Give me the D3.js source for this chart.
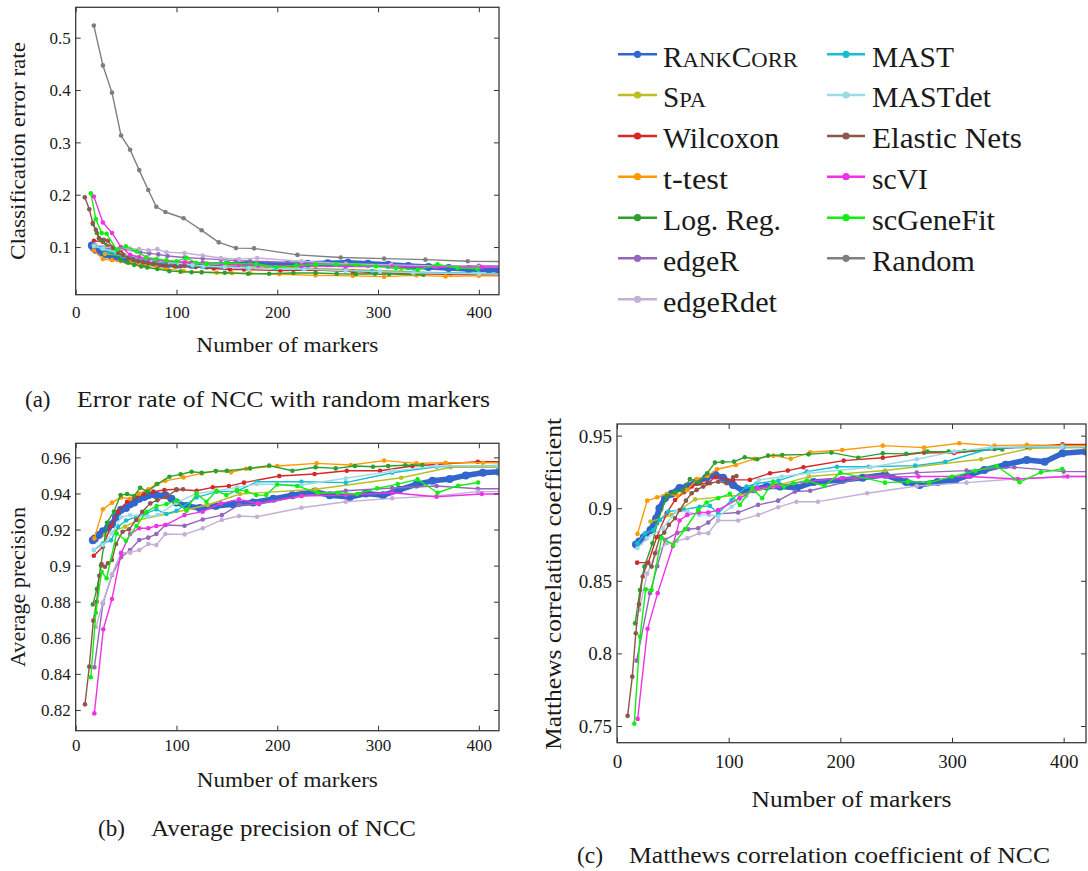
<!DOCTYPE html>
<html>
<head>
<meta charset="utf-8">
<script src="https://cdn.jsdelivr.net/npm/d3@7"></script>
<style>
  body { margin: 0; background: #fff; }
  svg text { font-family: "Liberation Serif", "DejaVu Serif", serif; fill: #1a1a1a; }
</style>
</head>
<body>
<div id="app"></div>
<script>
// methods, colours (legend order = draw order)
const methods = ['RankCorr', 'Spa', 'Wilcoxon', 't-test', 'Log. Reg.', 'edgeR', 'edgeRdet',
  'MAST', 'MASTdet', 'Elastic Nets', 'scVI', 'scGeneFit', 'Random']
const colors = ['#3366cc', '#bcbd22', '#d62728', '#ff9900', '#2ca02c', '#9467bd', '#c5b0d5',
  '#17becf', '#9edae5', '#8c564b', '#f032e6', '#11ee11', '#7f7f7f']

const xTicks = [0, 100, 200, 300, 400]
const errTicks = [0.1, 0.2, 0.3, 0.4, 0.5]
const apTicks = [0.82, 0.84, 0.86, 0.88, 0.9, 0.92, 0.94, 0.96]
const mccTicks = [0.75, 0.8, 0.85, 0.9, 0.95]

// (a) classification error rate: [number of markers, value]
const errRankCorr = [[16,0.103],[18,0.098],[20,0.095],[25,0.09],[30,0.086],[36,0.082],[42,0.079],[50,0.076],[60,0.072],[70,0.069],[80,0.068],[90,0.066],[100,0.066],[115,0.066],[130,0.065],[150,0.066],[170,0.067],[190,0.066],[210,0.066],[230,0.068],[250,0.069],[270,0.07],[290,0.068],[310,0.066],[330,0.064],[350,0.062],[370,0.06],[390,0.058],[410,0.057],[420,0.056]]
const errSpa = [[29,0.087],[49,0.083],[62,0.078],[110,0.071],[131,0.068],[163,0.064],[238,0.059],[323,0.054],[372,0.048],[425,0.046]]
const errWilcoxon = [[18,0.112],[27,0.11],[36,0.1],[45,0.09],[54,0.083],[63,0.078],[72,0.073],[81,0.07],[90,0.067],[104,0.065],[119,0.062],[137,0.059],[153,0.057],[167,0.057],[203,0.055],[238,0.056],[275,0.053],[302,0.051],[338,0.049],[367,0.048],[400,0.047],[430,0.046]]
const errTtest = [[18,0.094],[27,0.077],[36,0.075],[45,0.073],[54,0.071],[63,0.068],[72,0.065],[81,0.062],[90,0.058],[107,0.054],[125,0.052],[140,0.051],[155,0.05],[173,0.05],[202,0.048],[238,0.046],[275,0.045],[306,0.0435],[338,0.046],[367,0.044],[400,0.045],[430,0.045]]
const errLogReg = [[17,0.144],[21,0.127],[25,0.114],[31,0.101],[37,0.089],[45,0.075],[52,0.07],[58,0.066],[65,0.063],[71,0.061],[81,0.058],[93,0.054],[104,0.053],[115,0.052],[125,0.052],[148,0.051],[171,0.049],[192,0.049],[216,0.0505],[238,0.0505],[259,0.049],[278,0.0486],[297,0.049],[311,0.0486],[345,0.047]]
const errEdgeR = [[19,0.1],[29,0.098],[43,0.097],[64,0.09],[73,0.088],[82,0.086],[91,0.083],[108,0.08],[126,0.078],[144,0.076],[159,0.074],[173,0.073],[224,0.07],[268,0.066],[313,0.065],[356,0.063],[400,0.064],[430,0.064]]
const errEdgeRdet = [[19,0.105],[27,0.1],[36,0.099],[45,0.098],[54,0.097],[63,0.096],[72,0.094],[81,0.096],[90,0.09],[108,0.0886],[126,0.084],[144,0.079],[162,0.077],[180,0.079],[224,0.073],[268,0.068],[313,0.066],[356,0.064],[400,0.062],[430,0.062]]
const errMast = [[18,0.104],[25,0.098],[33,0.092],[39,0.088],[46,0.083],[60,0.077],[74,0.073],[83,0.07],[91,0.069],[103,0.066],[116,0.064],[125,0.063],[145,0.062],[170,0.06],[197,0.059],[225,0.058],[267,0.056],[294,0.054],[335,0.052],[400,0.05],[430,0.049]]
const errMastdet = [[18,0.102],[27,0.097],[41,0.09],[63,0.08],[74,0.076],[83,0.074],[91,0.071],[103,0.068],[116,0.066],[127,0.064],[148,0.062],[172,0.06],[227,0.058],[268,0.055],[302,0.053],[335,0.051],[400,0.049],[430,0.048]]
const errElastic = [[9,0.195],[13.5,0.172],[17,0.146],[20,0.133],[23,0.117],[28,0.114],[32,0.112],[37,0.098],[42,0.089],[47,0.085],[52,0.079],[57,0.076],[62,0.073],[67,0.071],[72,0.0695],[77,0.068],[83,0.0663],[90,0.065],[98,0.0635],[104,0.0632],[108,0.0644]]
const errScvi = [[18,0.1965],[27,0.147],[36,0.127],[45,0.1],[54,0.0854],[63,0.081],[72,0.077],[81,0.075],[90,0.073],[108,0.071],[126,0.07],[144,0.068],[162,0.066],[181,0.065],[224,0.064],[268,0.063],[314,0.063],[358,0.062],[403,0.062],[430,0.062]]
const errScgenefit = [[15,0.2029],[20,0.1533],[25.7,0.1267],[30.7,0.1254],[40.6,0.0949],[49.8,0.1013],[60.4,0.0917],[70.3,0.0803],[80.2,0.0771],[90.1,0.0746],[100,0.0727],[109.9,0.0797],[119.8,0.0695],[129.7,0.0676],[149.5,0.0695],[179.2,0.0676],[199,0.0619],[218.8,0.0651],[238.6,0.067],[258.4,0.067],[278.2,0.0663],[298,0.0632],[317.8,0.06],[339.3,0.0568],[359,0.067],[378.8,0.06],[398.6,0.0587]]
const errRandom = [[18,0.523],[27,0.447],[36,0.395],[45,0.313],[54,0.286],[63,0.247],[72,0.209],[80,0.177],[89,0.167],[107,0.155],[125,0.132],[142,0.109],[159,0.098],[177,0.0975],[220,0.085],[263,0.08],[306,0.078],[347,0.076],[389,0.073],[432,0.072]]

// (b) average precision
const apRankCorr = [[17,0.914],[19,0.915],[23,0.917],[27,0.919],[32,0.921],[36,0.923],[40,0.927],[45,0.931],[50,0.932],[54,0.934],[58,0.935],[63,0.937],[68,0.938],[72,0.939],[80,0.939],[89,0.939],[95,0.937],[100,0.935],[110,0.933],[123,0.932],[139,0.933],[156,0.934],[176,0.935],[196,0.937],[215,0.939],[237,0.941],[252,0.939],[272,0.938],[288,0.94],[305,0.939],[321,0.942],[338,0.945],[354,0.947],[371,0.948],[387,0.95],[404,0.9515],[420,0.952]]
const apSpa = [[29,0.917],[49,0.9216],[62,0.9253],[110,0.931],[131,0.9336],[163,0.9397],[238,0.9423],[323,0.9487],[372,0.9545],[420,0.9545]]
const apWilcoxon = [[18,0.9055],[27,0.9105],[35,0.922],[42,0.93],[51,0.9354],[60,0.938],[68,0.94],[77,0.941],[88,0.9419],[100,0.9423],[120,0.9415],[136,0.9434],[152,0.9441],[167,0.946],[202,0.9497],[237,0.9508],[269,0.9526],[302,0.9526],[334,0.9552],[399,0.9576],[430,0.9576]]
const apTtest = [[18.5,0.9151],[27,0.9312],[36,0.9349],[45,0.9378],[54,0.9371],[63,0.9399],[72,0.9423],[80,0.9452],[89,0.947],[107,0.9489],[125,0.9511],[139,0.9524],[154,0.9517],[169,0.9537],[200,0.9552],[239,0.9567],[273,0.9558],[306,0.9582],[338,0.9567],[367,0.957],[404,0.957],[430,0.957]]
const apLogReg = [[17,0.8785],[21,0.887],[25,0.9],[31,0.9238],[38,0.93],[44.5,0.9391],[51,0.9397],[58,0.9386],[64,0.9432],[71,0.941],[81,0.9452],[93,0.9493],[104,0.9506],[115,0.952],[125,0.9515],[139,0.9524],[150,0.9526],[173,0.9539],[192,0.9554],[215,0.9526],[238,0.9545],[258,0.9539],[277,0.9552],[295,0.9548],[310,0.9552],[327,0.9556],[344,0.9558]]
const apEdgeR = [[18.5,0.8436],[27,0.8791],[36,0.8948],[45,0.9046],[54,0.9086],[63,0.9142],[72,0.9155],[80,0.9175],[89,0.9225],[108,0.9221],[126,0.9256],[145,0.928],[162,0.9336],[182,0.9341],[224,0.9386],[268,0.9415],[314,0.943],[358,0.9441],[399,0.9426],[430,0.9426]]
const apEdgeRdet = [[20,0.866],[27,0.8795],[36,0.8952],[45,0.9072],[54,0.9072],[63,0.9086],[72,0.912],[80,0.9114],[89,0.9175],[108,0.9173],[126,0.9207],[145,0.9253],[162,0.9275],[180,0.9271],[224,0.9321],[268,0.9354],[314,0.9373],[358,0.9386],[399,0.941],[430,0.941]]
const apMast = [[18,0.9086],[27,0.9123],[35,0.914],[42,0.9216],[50,0.925],[60,0.927],[70,0.929],[80,0.9312],[90,0.9286],[100,0.9304],[120,0.9378],[140,0.941],[160,0.9413],[180,0.9465],[224,0.9465],[268,0.946],[314,0.9515],[358,0.9548],[420,0.9555]]
const apMastdet = [[18,0.9087],[27,0.9114],[36,0.918],[45,0.9268],[54,0.928],[63,0.9275],[72,0.9271],[81,0.928],[100,0.9349],[120,0.94],[140,0.9415],[160,0.9434],[180,0.9452],[224,0.9447],[268,0.9484],[314,0.9524],[358,0.9552],[420,0.9552]]
const apElastic = [[9.2,0.8231],[13.5,0.844],[17.5,0.8695],[20.8,0.88],[23.4,0.8944],[25.7,0.9009],[29,0.8994],[32,0.9013],[36,0.9031],[40,0.912],[46.5,0.9188],[53,0.9201],[60,0.9253],[66,0.9299],[74,0.9345],[81,0.9363],[90,0.9382],[100,0.9419],[106.5,0.9423]]
const apScvi = [[18.5,0.8181],[27.4,0.8647],[36,0.8815],[45,0.9068],[54,0.9175],[63,0.9207],[72,0.9207],[80,0.922],[89,0.9225],[108,0.928],[126,0.9299],[144,0.9345],[162,0.9367],[181,0.9345],[224,0.9386],[268,0.9391],[314,0.9404],[358,0.9382],[403,0.9397],[430,0.9397]]
const apScgenefit = [[15,0.8381],[20,0.8739],[25.7,0.8966],[30.7,0.893],[40.6,0.9179],[49.8,0.9138],[60.4,0.922],[70.3,0.9299],[80.2,0.933],[90.1,0.9341],[100,0.936],[109.9,0.9304],[119.8,0.94],[129.7,0.9354],[139.6,0.9415],[149.5,0.9391],[160,0.9419],[169.3,0.9413],[179.2,0.9391],[189.1,0.9391],[200,0.945],[219.8,0.9441],[240.3,0.9404],[260,0.9404],[279.2,0.9397],[299,0.9428],[319.5,0.9452],[339.3,0.9478],[359,0.9404],[379.5,0.9443],[399.3,0.9461]]

// (c) Matthews correlation coefficient
const mccRankCorr = [[17,0.875],[20,0.877],[24,0.88],[30,0.885],[35,0.893],[38,0.9],[43,0.907],[49,0.91],[56,0.914],[63,0.915],[71,0.918],[80,0.921],[88,0.923],[95,0.921],[104,0.916],[113,0.912],[122,0.913],[134,0.915],[146,0.915],[161,0.914],[176,0.918],[202,0.9195],[220,0.921],[240,0.923],[259,0.918],[271,0.916],[287,0.918],[303,0.9195],[316,0.923],[329,0.9264],[348,0.93],[367,0.9332],[383,0.932],[399,0.9378],[420,0.939]]
const mccSpa = [[30,0.8908],[49,0.8953],[70,0.9061],[110,0.909],[140,0.915],[172,0.9218],[240,0.926],[326,0.9337],[370,0.9413],[420,0.9417]]
const mccWilcoxon = [[18,0.8625],[28,0.8625],[35.5,0.88],[44.5,0.8966],[52,0.9057],[60,0.911],[67,0.915],[74,0.917],[81,0.9172],[88,0.9213],[104,0.9195],[119,0.9195],[137,0.9241],[153,0.9259],[167,0.9282],[203,0.9328],[238,0.9348],[275,0.9383],[302,0.938],[338,0.9408],[367,0.9424],[399,0.944],[430,0.944]]
const mccTtest = [[18.4,0.8823],[27,0.9052],[36,0.9075],[44.5,0.9098],[54,0.9087],[63,0.9126],[71.5,0.92],[81,0.9222],[89.6,0.9268],[106.4,0.9298],[123,0.934],[140,0.9362],[155.6,0.934],[173,0.9385],[201.7,0.9401],[238,0.9431],[275,0.9417],[306.5,0.9447],[338,0.9431],[367,0.9436],[399,0.9431],[430,0.943]]
const mccLogReg = [[16.2,0.8207],[20.6,0.8437],[24.5,0.8598],[31.8,0.8758],[35.9,0.8896],[44.5,0.9084],[52,0.9109],[58.7,0.912],[65.3,0.92],[73,0.918],[80.8,0.9241],[87.7,0.9314],[94.5,0.9318],[104.8,0.9321],[114.4,0.9351],[125.5,0.9337],[135.3,0.9362],[148,0.9366],[171.5,0.9371],[192,0.9383],[216,0.9348],[238,0.9378],[259,0.9374],[278,0.939],[297,0.939],[311,0.9394],[345,0.9405]]
const mccEdgeR = [[17.6,0.795],[29.5,0.8415],[36,0.86],[43,0.8782],[54,0.883],[63.8,0.8855],[72.7,0.8862],[81.7,0.8901],[90.6,0.8961],[108.5,0.897],[126.4,0.9023],[144.3,0.9052],[159.2,0.9114],[173,0.912],[224,0.9218],[268.4,0.9245],[313,0.9259],[355.8,0.9282],[400,0.9252],[430,0.9252]]
const mccEdgeRdet = [[20,0.83],[27,0.855],[36,0.87],[45,0.876],[53.4,0.8775],[62.9,0.8793],[73.6,0.8828],[81.7,0.8828],[90.6,0.8915],[108.5,0.8915],[126.4,0.8954],[144.3,0.9007],[160.7,0.9045],[180,0.9045],[224,0.9103],[268.4,0.9153],[313,0.9176],[355.8,0.9201],[400,0.9218],[430,0.9218]]
const mccMast = [[18.2,0.8759],[25,0.8828],[32.5,0.885],[38.5,0.8919],[46,0.8977],[60,0.899],[74,0.901],[83.2,0.9016],[90.6,0.8965],[102.6,0.9057],[116,0.9149],[125,0.917],[144.5,0.919],[170,0.9252],[197,0.9286],[225.5,0.9286],[267,0.9293],[294,0.932],[335,0.9413],[400,0.9424],[430,0.9424]]
const mccMastdet = [[18.2,0.8724],[26.7,0.8793],[41,0.8862],[53,0.8977],[62.9,0.8977],[73.6,0.8954],[82.5,0.8954],[90.6,0.8943],[102.6,0.901],[116,0.9083],[127,0.9195],[147.7,0.9218],[171.5,0.9241],[227,0.9282],[268.4,0.9337],[302,0.939],[335,0.942],[398.7,0.9424],[430,0.9424]]
const mccElastic = [[9.5,0.757],[13.7,0.784],[16.8,0.8138],[19.7,0.8338],[23,0.853],[27,0.8621],[31,0.8598],[34,0.869],[38.5,0.8804],[42.3,0.8832],[46.5,0.8885],[52,0.8931],[56.3,0.8988],[61.7,0.9052],[66.8,0.9103],[71.3,0.9126],[77.2,0.9149],[83.2,0.9172],[90.6,0.9183],[98,0.9172],[104,0.9213],[107,0.9222]]
const mccScvi = [[18.5,0.7549],[27.4,0.8169],[36.4,0.8415],[50,0.874],[56,0.8915],[62.9,0.8954],[73.6,0.897],[81.7,0.897],[90.6,0.8988],[109.6,0.9068],[125.5,0.9137],[144.5,0.9153],[170,0.9185],[201.7,0.9206],[270,0.9218],[314.5,0.9218],[359,0.9201],[403.4,0.9218],[430,0.9218]]
const mccScgenefit = [[15.5,0.7515],[20.6,0.8116],[25.7,0.8442],[31,0.8437],[40,0.8797],[50.4,0.8747],[60.8,0.8855],[72.7,0.8988],[80.2,0.9039],[90.6,0.9069],[101,0.9099],[110,0.9023],[121,0.9138],[130,0.9069],[139.8,0.9183],[149.4,0.9149],[157.7,0.9172],[170,0.919],[185.8,0.9153],[200,0.9245],[240,0.9176],[260.5,0.9183],[279.5,0.9176],[300,0.9218],[321,0.9257],[340,0.9291],[360.5,0.9179],[379.6,0.9247],[398.7,0.927]]

const serif = '"Liberation Serif", "DejaVu Serif", serif'

function main() {
  const svg = d3.select('#app').append('svg')
    .attr('width', 1088).attr('height', 871)
    .attr('font-family', serif)
    .style('display', 'block')

  const panels = [
    { id: 'a', left: 75.7, right: 499, top: 7.3, bottom: 294.7, yDomain: [0.009, 0.558], yTicks: errTicks,
      tickFont: 17, xTickBase: 318,
      series: [errRankCorr, errSpa, errWilcoxon, errTtest, errLogReg, errEdgeR, errEdgeRdet, errMast, errMastdet, errElastic, errScvi, errScgenefit, errRandom],
      ylabel: 'Classification error rate', ylx: 25, yly: 151, yll: 218,
      xlabel: 'Number of markers', xly: 352, xll: 182, labelFont: 21.5 },
    { id: 'b', left: 75.7, right: 499, top: 443.3, bottom: 730.7, yDomain: [0.8085, 0.9678], yTicks: apTicks,
      tickFont: 17, xTickBase: 751,
      series: [apRankCorr, apSpa, apWilcoxon, apTtest, apLogReg, apEdgeR, apEdgeRdet, apMast, apMastdet, apElastic, apScvi, apScgenefit, null],
      ylabel: 'Average precision', ylx: 25, yly: 587, yll: 160,
      xlabel: 'Number of markers', xly: 787, xll: 181, labelFont: 21.5 },
    { id: 'c', left: 617, right: 1086, top: 424, bottom: 742.7, yDomain: [0.7385, 0.958], yTicks: mccTicks,
      tickFont: 19, xTickBase: 768,
      series: [mccRankCorr, mccSpa, mccWilcoxon, mccTtest, mccLogReg, mccEdgeR, mccEdgeRdet, mccMast, mccMastdet, mccElastic, mccScvi, mccScgenefit, null],
      ylabel: 'Matthews correlation coefficient', ylx: 561, yly: 584, yll: 332,
      xlabel: 'Number of markers', xly: 807, xll: 200, labelFont: 23.5 }
  ]

  panels.forEach((p) => drawPanel(svg, p))

  // legend
  const leg = svg.append('g')
  const cols = [{ x0: 618, x1: 657, tx: 663 }, { x0: 827, x1: 865, tx: 872 }]
  const rowY = [54.3, 95, 136, 176.7, 217.7, 258.3, 299.3]
  const legLen = [135, 43, 116, 65, 118, 76, 114, 82, 119, 150, 56, 123, 103]
  methods.forEach((m, i) => {
    const c = cols[i < 7 ? 0 : 1]
    const y = rowY[i < 7 ? i : i - 7]
    leg.append('line').attr('x1', c.x0).attr('x2', c.x1).attr('y1', y).attr('y2', y)
      .attr('stroke', colors[i]).attr('stroke-width', 2.6)
    leg.append('circle').attr('cx', (c.x0 + c.x1) / 2).attr('cy', y).attr('r', 3.6).attr('fill', colors[i])
    const t = leg.append('text').attr('x', c.tx).attr('y', y + 12.3)
      .attr('font-family', serif)
      .attr('font-size', 28.5).attr('textLength', legLen[i]).attr('lengthAdjust', 'spacingAndGlyphs')
    if (m === 'RankCorr') {
      t.append('tspan').text('R')
      t.append('tspan').attr('font-size', 22).text('ANK')
      t.append('tspan').text('C')
      t.append('tspan').attr('font-size', 22).text('ORR')
    } else if (m === 'Spa') {
      t.append('tspan').text('S')
      t.append('tspan').attr('font-size', 22).text('PA')
    } else {
      t.text(m)
    }
  })

  // captions
  const caps = [
    { tag: '(a)', tagX: 25, x: 77, y: 407, text: 'Error rate of NCC with random markers', len: 413, size: 23 },
    { tag: '(b)', tagX: 98, x: 151, y: 836, text: 'Average precision of NCC', len: 265, size: 23 },
    { tag: '(c)', tagX: 577, x: 629, y: 863, text: 'Matthews correlation coefficient of NCC', len: 421, size: 23.5 }
  ]
  caps.forEach((c) => {
    svg.append('text').attr('x', c.tagX).attr('y', c.y).attr('font-size', c.size)
      .attr('font-family', serif).text(c.tag)
    svg.append('text').attr('x', c.x).attr('y', c.y).attr('font-size', c.size)
      .attr('font-family', serif)
      .attr('textLength', c.len).attr('lengthAdjust', 'spacingAndGlyphs').text(c.text)
  })
}

function drawPanel(svg, p) {
  const x = d3.scaleLinear().domain([0, 420]).range([p.left, p.right])
  const y = d3.scaleLinear().domain(p.yDomain).range([p.bottom, p.top])
  const g = svg.append('g')

  g.append('clipPath').attr('id', 'clip-' + p.id)
    .append('rect').attr('x', p.left).attr('y', p.top)
    .attr('width', p.right - p.left).attr('height', p.bottom - p.top)

  const plot = g.append('g').attr('clip-path', `url(#clip-${p.id})`)
  const line = d3.line().x((d) => x(d[0])).y((d) => y(d[1]))

  p.series.forEach((s, i) => {
    if (!s) return
    const thick = i === 0
    plot.append('path').datum(s).attr('d', line)
      .attr('fill', 'none').attr('stroke', colors[i])
      .attr('stroke-width', thick ? 5.5 : 1.4)
      .attr('stroke-linejoin', 'round').attr('stroke-linecap', 'round')
    plot.append('g').selectAll('circle').data(s).join('circle')
      .attr('cx', (d) => x(d[0])).attr('cy', (d) => y(d[1]))
      .attr('r', thick ? 4 : 2.3).attr('fill', colors[i])
  })

  const fmt = (d) => String(+d.toFixed(2))

  // bottom axis
  const bx = g.append('g').attr('transform', `translate(0,${p.bottom})`)
    .call(d3.axisBottom(x).tickValues(xTicks).tickSizeInner(-5).tickSizeOuter(0))
  bx.selectAll('text').attr('y', p.xTickBase - p.bottom).attr('dy', null)
    .attr('font-size', p.tickFont).attr('font-family', serif)
  // left axis
  const ly = g.append('g').attr('transform', `translate(${p.left},0)`)
    .call(d3.axisLeft(y).tickValues(p.yTicks).tickFormat(fmt).tickSizeInner(-5).tickSizeOuter(0).tickPadding(5))
  ly.selectAll('text').attr('font-size', p.tickFont).attr('font-family', serif).attr('dy', '0.34em')
  // mirrored ticks on top / right
  g.append('g').attr('transform', `translate(0,${p.top})`)
    .call(d3.axisTop(x).tickValues(xTicks).tickSizeInner(-5).tickSizeOuter(0).tickFormat(''))
  g.append('g').attr('transform', `translate(${p.right},0)`)
    .call(d3.axisRight(y).tickValues(p.yTicks).tickSizeInner(-5).tickSizeOuter(0).tickFormat(''))

  g.selectAll('.domain').remove()
  g.selectAll('.tick line').attr('stroke', '#333')
  g.append('rect').attr('x', p.left).attr('y', p.top)
    .attr('width', p.right - p.left).attr('height', p.bottom - p.top)
    .attr('fill', 'none').attr('stroke', '#3a3a3a').attr('stroke-width', 1.3)

  // axis titles
  g.append('text').attr('text-anchor', 'middle').attr('font-size', p.labelFont)
    .attr('font-family', serif)
    .attr('transform', `translate(${p.ylx},${p.yly}) rotate(-90)`)
    .attr('textLength', p.yll).attr('lengthAdjust', 'spacingAndGlyphs')
    .text(p.ylabel)
  g.append('text').attr('text-anchor', 'middle').attr('font-size', p.labelFont)
    .attr('font-family', serif)
    .attr('x', (p.left + p.right) / 2).attr('y', p.xly)
    .attr('textLength', p.xll).attr('lengthAdjust', 'spacingAndGlyphs')
    .text(p.xlabel)
}

main()
</script>
</body>
</html>
